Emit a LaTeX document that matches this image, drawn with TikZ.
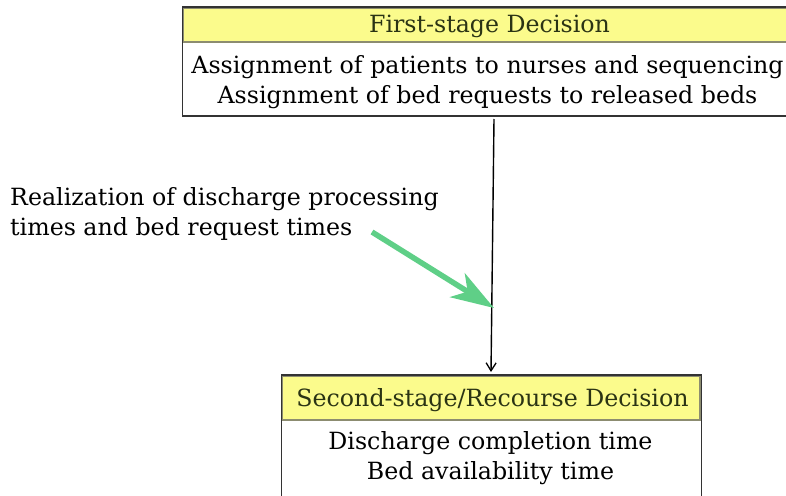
\documentclass[tikz,border=0pt]{standalone}
\usepackage{fontspec}
\setmainfont{DejaVu Serif}
\usetikzlibrary{arrows.meta}
\definecolor{hdrfill}{HTML}{FBFB8C}
\definecolor{hdrline}{HTML}{8C8C70}
\definecolor{hdrtext}{HTML}{2A3314}
\definecolor{boxline}{HTML}{333333}
\definecolor{flowgreen}{HTML}{5FCF87}
\tikzset{
  txt/.style={font=\fontsize{23.7}{29.5}\selectfont, align=center, inner sep=0pt},
  hdr/.style={txt, text=hdrtext},
  boxframe/.style={draw=boxline, line width=1.6pt},
  hdrbar/.style={fill=hdrfill, draw=hdrline, line width=1.3pt},
  flow/.style={-{Straight Barb[length=8pt,width=10pt,line width=1.3pt]}, line width=1.4pt},
  realize/.style={draw=flowgreen, line width=5.5pt,
    -{Stealth[length=43pt,width=28pt,inset=12pt]}, line cap=butt}
}
\begin{document}
\begin{tikzpicture}[x=1pt,y=-1pt]
\useasboundingbox (0,0) rectangle (786,495);
\clip (0,0) rectangle (786,495);

% first-stage box
\fill[white] (182.5,7) rectangle (797,116);
\draw[hdrbar] (183.5,8) rectangle (797,42);
\draw[boxframe] (182.5,7) rectangle (797,116);
\node[hdr] (th) at (489.5,26.5) {First-stage Decision};
\node[txt] (tb) at (487.5,82) {Assignment of patients to nurses and sequencing\\Assignment of bed requests to released beds};

% second-stage box
\draw[hdrbar] (282.5,376) rectangle (700,420);
\draw[boxframe] (281.5,375) rectangle (701.5,500);
\node[hdr] (bh) at (492.5,400) {Second-stage/Recourse Decision};
\node[txt] (bb) at (490.5,458) {Discharge completion time\\Bed availability time};

% anchors for the decision flow
\coordinate (fs) at (494,119);
\coordinate (ss) at (491,372);
\draw[flow] (fs) -- (ss);

% realization of uncertainty
\node[txt, align=left, anchor=west] (lbl) at (10,214) {Realization of discharge processing\\times and bed request times};
\coordinate (gs) at (372,232);
\coordinate (gt) at (494,308);
\draw[realize] (gs) -- (gt);
\end{tikzpicture}
\end{document}
